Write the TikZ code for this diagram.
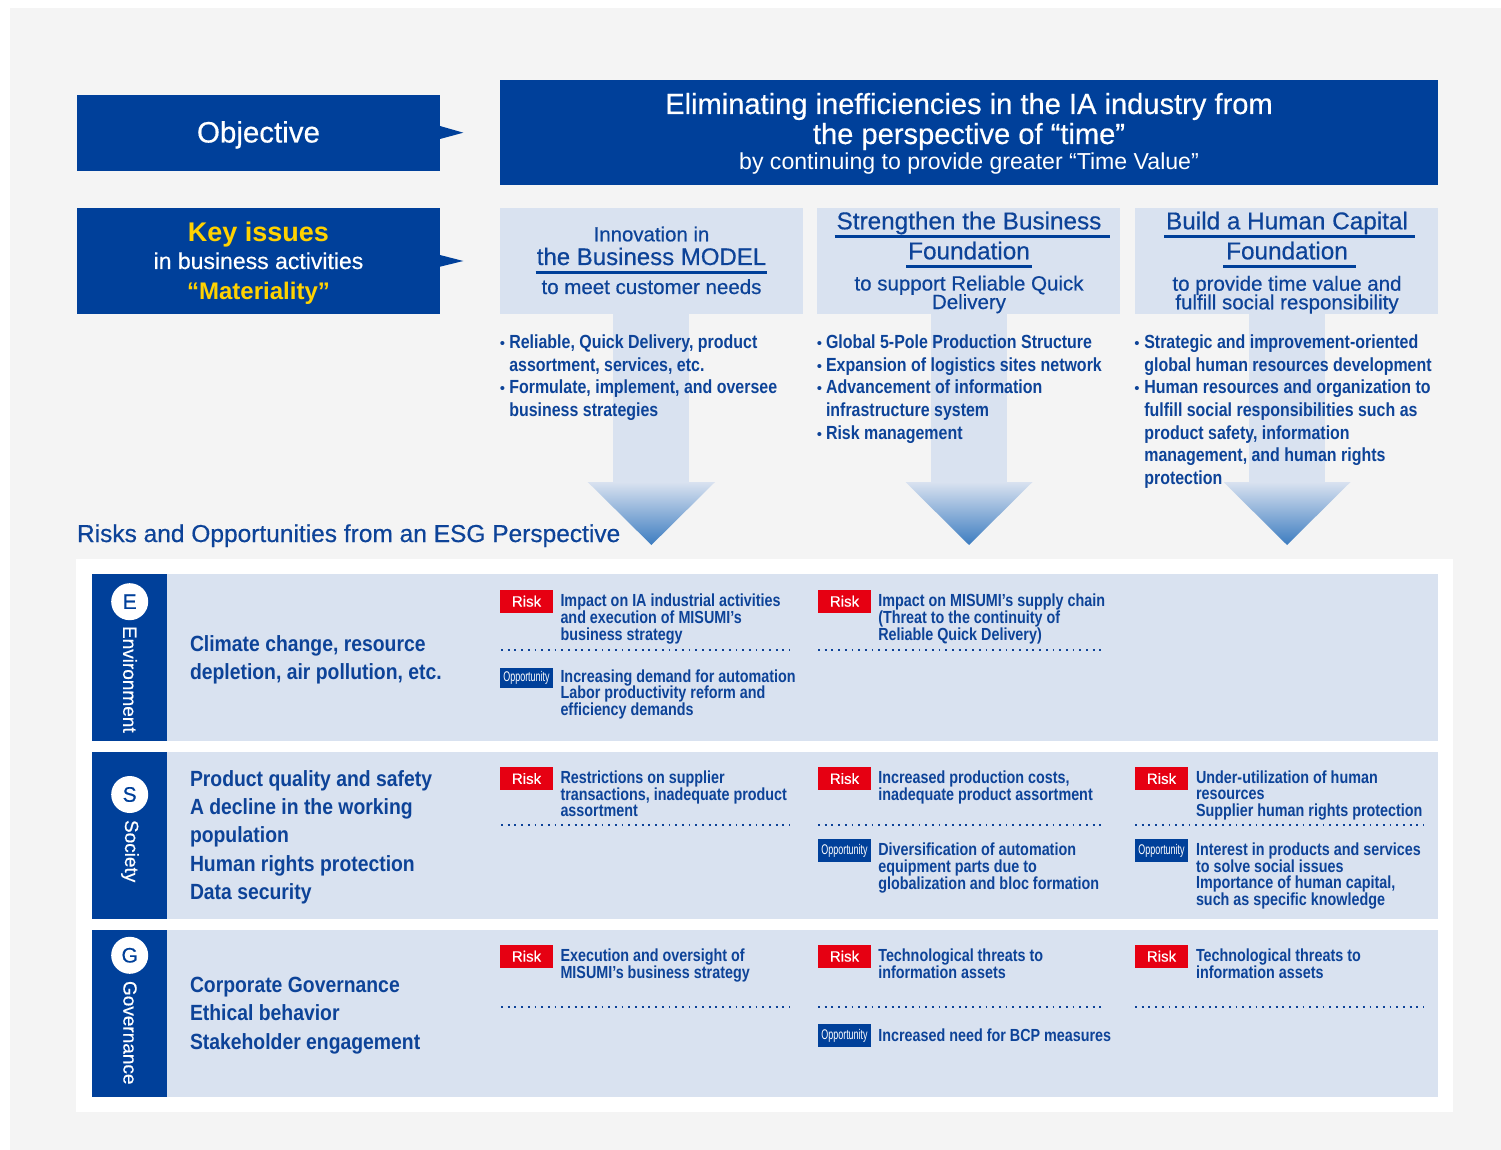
\documentclass[tikz,border=0pt]{standalone}
\usepackage{fontspec}
\setmainfont{Liberation Sans}
\newfontfamily\hd[FakeBold=0.5]{Liberation Sans}
\newfontfamily\cnd[FakeStretch=0.84]{Liberation Sans}
\newfontfamily\cndr[FakeStretch=0.82]{Liberation Sans}
\newfontfamily\cndw[FakeStretch=0.88]{Liberation Sans}
\newfontfamily\cndn[FakeStretch=0.64]{Liberation Sans}
\definecolor{dblue}{HTML}{00409A}
\definecolor{tblue}{HTML}{0D4398}
\definecolor{lblue}{HTML}{D9E2F0}
\definecolor{bggray}{HTML}{F4F4F4}
\definecolor{kyellow}{HTML}{FFD200}
\definecolor{rred}{HTML}{E60012}
\definecolor{ablue}{HTML}{3C7CC0}
\begin{document}
\begin{tikzpicture}[x=1pt,y=-1pt,
  t/.style={inner sep=0pt, outer sep=0pt},
  dbox/.style={fill=dblue, draw=none},
  lbox/.style={fill=lblue, draw=none},
  hdl/.style={t, anchor=base, text=tblue},
  bul/.style={t, anchor=base west, align=left, text=tblue, font=\cnd\bfseries\fontsize{19}{22.7}\selectfont},
  bdot/.style={t, anchor=base, text=tblue, font=\fontsize{15}{15}\selectfont},
  rsk/.style={t, anchor=base west, align=left, text=tblue, font=\cndr\bfseries\fontsize{17.5}{16.7}\selectfont},
  esg/.style={t, anchor=base west, align=left, text=tblue, font=\cndw\bfseries\fontsize{22}{28.2}\selectfont},
  riskb/.style={t, anchor=north west, fill=rred, minimum width=53pt, minimum height=22.5pt, text=white, font=\hd\fontsize{15}{15}\selectfont},
  oppb/.style={t, anchor=north west, fill=dblue, minimum width=53pt, minimum height=22.5pt, text=white, font=\cndn\fontsize{14}{14}\selectfont},
  dots/.style={tblue, line width=1.8pt, dash pattern=on 1.8pt off 4.9pt},
  ul/.style={dblue, line width=3.3pt},
  letter/.style={circle, fill=white, minimum size=37pt, inner sep=0pt, text=dblue, font=\hd\fontsize{21}{21}\selectfont},
  vert/.style={t, rotate=-90, anchor=west, text=white, font=\hd\fontsize{19}{19}\selectfont},
  ahead/.style={top color=lblue, bottom color=ablue, draw=none}
]
\useasboundingbox (0,0) rectangle (1501,1150);
\fill[white] (0,0) rectangle (1501,1150);
\fill[bggray] (10,8) rectangle (1501,1150);

% ---------- Objective ----------
\node[dbox, t, anchor=north west, minimum width=363pt, minimum height=76pt] (objbox) at (77,95) {};
\fill[dblue] (objbox.east |- 0,126) -- (463.3,132.7) -- (objbox.east |- 0,139) -- cycle;
\node[t, anchor=base, text=white, font=\hd\fontsize{29.5}{29.5}\selectfont] (objtxt) at (258.5,142.5) {Objective};

\node[dbox, t, anchor=north west, minimum width=363pt, minimum height=106pt] (keybox) at (77,208) {};
\fill[dblue] (keybox.east |- 0,255) -- (463.3,261) -- (keybox.east |- 0,266.7) -- cycle;
\node[t, anchor=base, text=kyellow, font=\bfseries\fontsize{27}{27}\selectfont] (key1) at (258.5,242) {Key issues};
\node[t, anchor=base, text=white, font=\hd\fontsize{23}{23}\selectfont] (key2) at (258.5,269) {in business activities};
\node[t, anchor=base, text=kyellow, font=\bfseries\fontsize{24}{24}\selectfont] (key3) at (258.5,299) {“Materiality”};

% ---------- Title ----------
\node[dbox, t, anchor=north west, minimum width=938pt, minimum height=105pt] (titlebox) at (500,80) {};
\node[t, anchor=base, text=white, font=\hd\fontsize{29.1}{29.1}\selectfont] (tit1) at (969,114) {Eliminating inefficiencies in the IA industry from};
\node[t, anchor=base, text=white, font=\hd\fontsize{29.1}{29.1}\selectfont] (tit2) at (969,144) {the perspective of “time”};
\node[t, anchor=base, text=white, font=\fontsize{23.1}{23.1}\selectfont] (tit3) at (969,170) {by continuing to provide greater “Time Value”};

% ---------- arrows ----------
\fill[lblue] (613,310) rectangle (689,482.5);
\fill[lblue] (931,310) rectangle (1007,482.5);
\fill[lblue] (1249,310) rectangle (1325,482.5);
\shade[ahead] (587.7,482) -- (715,482) -- (651.4,545) -- cycle;
\shade[ahead] (905.5,482) -- (1032.5,482) -- (969,545) -- cycle;
\shade[ahead] (1223.5,482) -- (1350.5,482) -- (1287,545) -- cycle;

% ---------- column headers ----------
\node[lbox, t, anchor=north west, minimum width=303pt, minimum height=106pt] (h1) at (500,208) {};
\node[lbox, t, anchor=north west, minimum width=303pt, minimum height=106pt] (h2) at (817,208) {};
\node[lbox, t, anchor=north west, minimum width=303pt, minimum height=106pt] (h3) at (1135,208) {};

\node[hdl, font=\hd\fontsize{20.4}{20.4}\selectfont] (h1a) at (651.5,241.3) {Innovation in};
\node[hdl, font=\hd\fontsize{24}{24}\selectfont] (h1b) at (651.5,265) {the Business MODEL};
\draw[ul] (535.7,272.3) -- (766.7,272.3);
\node[hdl, font=\hd\fontsize{20.5}{20.5}\selectfont] (h1c) at (651.5,294) {to meet customer needs};

\node[hdl, font=\hd\fontsize{24.3}{24.3}\selectfont] (h2a) at (969,229.3) {Strengthen the Business};
\draw[ul] (834.5,236.5) -- (1110,236.5);
\node[hdl, font=\hd\fontsize{24.3}{24.3}\selectfont] (h2b) at (969,259.3) {Foundation};
\draw[ul] (906,266.5) -- (1032,266.5);
\node[hdl, font=\hd\fontsize{20.5}{20.5}\selectfont] (h2c) at (969,290.5) {to support Reliable Quick};
\node[hdl, font=\hd\fontsize{20.5}{20.5}\selectfont] (h2d) at (969,309) {Delivery};

\node[hdl, font=\hd\fontsize{24.3}{24.3}\selectfont] (h3a) at (1287,229.3) {Build a Human Capital};
\draw[ul] (1164.3,236.2) -- (1415,236.2);
\node[hdl, font=\hd\fontsize{24.3}{24.3}\selectfont] (h3b) at (1287,259.3) {Foundation};
\draw[ul] (1223,266.5) -- (1356,266.5);
\node[hdl, font=\hd\fontsize{20.5}{20.5}\selectfont] (h3c) at (1287,290.7) {to provide time value and};
\node[hdl, font=\hd\fontsize{20.5}{20.5}\selectfont] (h3d) at (1287,309.3) {fulfill social responsibility};

% ---------- bullets (base = last line) ----------
\node[bdot] (d11) at (502.5,348.3) {•};
\node[bdot] (d12) at (502.5,393.7) {•};
\node[bul] (l1) at (509.3,416.4) {Reliable, Quick Delivery, product\\assortment, services, etc.\\Formulate, implement, and oversee\\business strategies};

\node[bdot] (d21) at (819.5,348.3) {•};
\node[bdot] (d22) at (819.5,371) {•};
\node[bdot] (d23) at (819.5,393.7) {•};
\node[bdot] (d24) at (819.5,439.1) {•};
\node[bul] (l2) at (826,439.1) {Global 5-Pole Production Structure\\Expansion of logistics sites network\\Advancement of information\\infrastructure system\\Risk management};

\node[bdot] (d31) at (1137,348.3) {•};
\node[bdot] (d32) at (1137,393.7) {•};
\node[bul] (l3) at (1144.3,484.5) {Strategic and improvement-oriented\\global human resources development\\Human resources and organization to\\fulfill social responsibilities such as\\product safety, information\\management, and human rights\\protection};

% ---------- ESG heading ----------
\node[t, anchor=base west, text=tblue, font=\hd\fontsize{24.5}{24.5}\selectfont] (esgtitle) at (77,542) {Risks and Opportunities from an ESG Perspective};

% ---------- ESG panel ----------
\fill[white] (76,559) rectangle (1453,1112);

% rows
\node[lbox, t, anchor=north west, minimum width=1346pt, minimum height=167pt] (rowE) at (92,574) {};
\node[lbox, t, anchor=north west, minimum width=1346pt, minimum height=167pt] (rowS) at (92,752) {};
\node[lbox, t, anchor=north west, minimum width=1346pt, minimum height=167pt] (rowG) at (92,930) {};
\node[dbox, t, anchor=north west, minimum width=75pt, minimum height=167pt] (stripE) at (92,574) {};
\node[dbox, t, anchor=north west, minimum width=75pt, minimum height=167pt] (stripS) at (92,752) {};
\node[dbox, t, anchor=north west, minimum width=75pt, minimum height=167pt] (stripG) at (92,930) {};

\node[letter] (cE) at (129.7,601.7) {E};
\node[letter] (cS) at (129.7,794.5) {S};
\node[letter] (cG) at (129.7,955.3) {G};
\node[vert] (vE) at (130,626) {Environment};
\node[vert] (vS) at (130,820) {Society};
\node[vert] (vG) at (130,981) {Governance};

\node[esg] (eE) at (190,679.2) {Climate change, resource\\depletion, air pollution, etc.};
\node[esg] (eS) at (190,899.3) {Product quality and safety\\A decline in the working\\population\\Human rights protection\\Data security};
\node[esg] (eG) at (190,1049.1) {Corporate Governance\\Ethical behavior\\Stakeholder engagement};

% E row
\node[riskb] (rE1) at (500,590) {Risk};
\node[rsk] (tE1) at (560.5,640.1) {Impact on IA industrial activities\\and execution of MISUMI’s\\business strategy};
\draw[dots] (501,650.3) -- (790,650.3);
\node[oppb, minimum height=20pt] (oE1) at (500,668) {Opportunity};
\node[rsk] (uE1) at (560.5,715.4) {Increasing demand for automation\\Labor productivity reform and\\efficiency demands};

\node[riskb] (rE2) at (818,590) {Risk};
\node[rsk] (tE2) at (878.3,640.1) {Impact on MISUMI’s supply chain\\(Threat to the continuity of\\Reliable Quick Delivery)};
\draw[dots] (818,650.3) -- (1106,650.3);

% S row
\node[riskb] (rS1) at (500,767.3) {Risk};
\node[rsk] (tS1) at (560.5,816.7) {Restrictions on supplier\\transactions, inadequate product\\assortment};
\draw[dots] (501,825) -- (790,825);

\node[riskb] (rS2) at (818,767.3) {Risk};
\node[rsk] (tS2) at (878.3,800) {Increased production costs,\\inadequate product assortment};
\draw[dots] (818,825) -- (1106,825);
\node[oppb] (oS2) at (818,839.3) {Opportunity};
\node[rsk] (uS2) at (878.3,889.1) {Diversification of automation\\equipment parts due to\\globalization and bloc formation};

\node[riskb] (rS3) at (1135,767.3) {Risk};
\node[rsk] (tS3) at (1196,816.4) {Under-utilization of human\\resources\\Supplier human rights protection};
\draw[dots] (1135,825) -- (1424,825);
\node[oppb] (oS3) at (1135,839.3) {Opportunity};
\node[rsk] (uS3) at (1196,905.4) {Interest in products and services\\to solve social issues\\Importance of human capital,\\such as specific knowledge};

% G row
\node[riskb] (rG1) at (500,945) {Risk};
\node[rsk] (tG1) at (560.5,978.4) {Execution and oversight of\\MISUMI’s business strategy};
\draw[dots] (501,1006.7) -- (790,1006.7);

\node[riskb] (rG2) at (818,945) {Risk};
\node[rsk] (tG2) at (878.3,978.4) {Technological threats to\\information assets};
\draw[dots] (818,1006.7) -- (1106,1006.7);
\node[oppb] (oG2) at (818,1024.3) {Opportunity};
\node[rsk] (uG2) at (878.3,1041) {Increased need for BCP measures};

\node[riskb] (rG3) at (1135,945) {Risk};
\node[rsk] (tG3) at (1196,978.4) {Technological threats to\\information assets};
\draw[dots] (1135,1006.7) -- (1424,1006.7);
\end{tikzpicture}
\end{document}
